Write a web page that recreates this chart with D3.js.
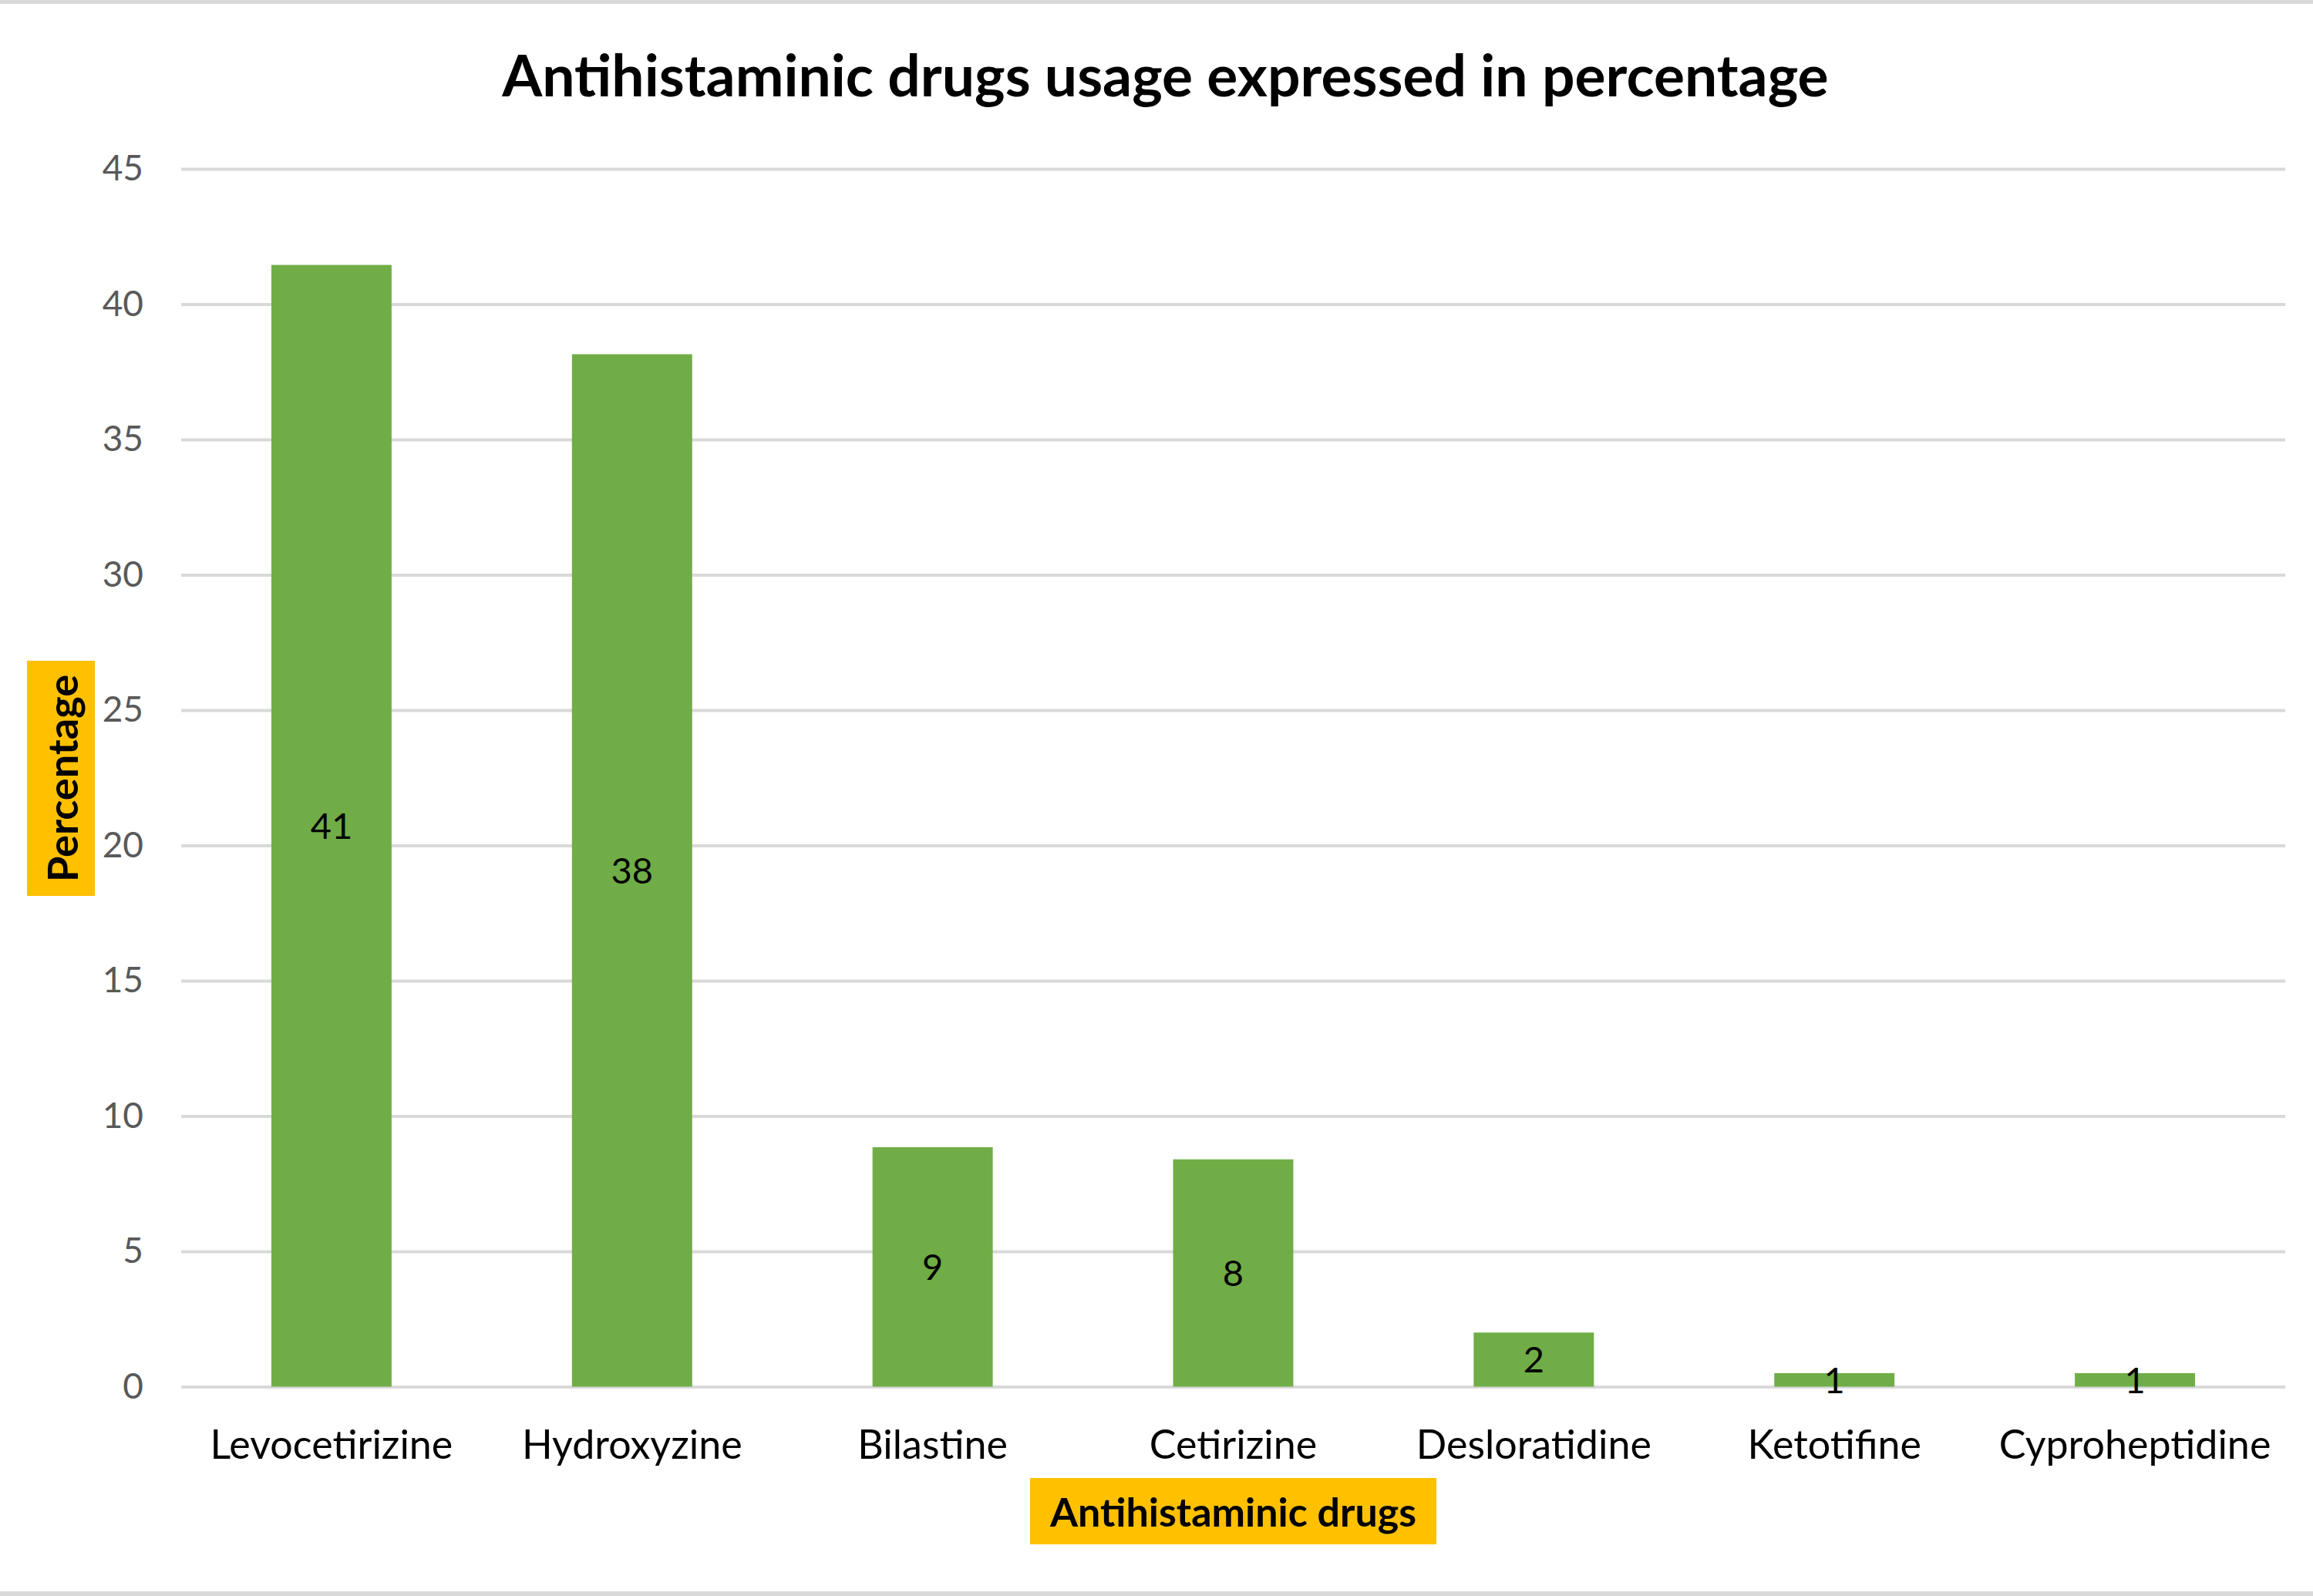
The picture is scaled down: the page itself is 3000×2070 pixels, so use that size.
<!DOCTYPE html>
<html>
<head>
<meta charset="utf-8">
<script src="https://cdn.jsdelivr.net/npm/d3@7"></script>
<style>
  html, body { margin: 0; padding: 0; background: #fff; }
  svg { display: block; font-family: Lato, "Open Sans", sans-serif; }
</style>
</head>
<body>
<div id="container"></div>
<script>
// chart data
const drugs = ['Levocetirizine', 'Hydroxyzine', 'Bilastine', 'Cetirizine', 'Desloratidine', 'Ketotifine', 'Cyproheptidine'];
const usage = [41.45, 38.15, 8.85, 8.4, 2.0, 0.5, 0.5];
const yTicks = [0, 5, 10, 15, 20, 25, 30, 35, 40, 45];

const width = 3000;
const height = 2070;
const plot = { left: 235, right: 2964, top: 219, bottom: 1798.5 };

const svg = d3.select('#container')
    .append('svg')
    .attr('width', width)
    .attr('height', height);

svg.append('rect').attr('width', width).attr('height', height).attr('fill', '#fff');
// thin grey frame lines at top and bottom
svg.append('rect').attr('x', 0).attr('y', 0).attr('width', width).attr('height', 5).attr('fill', '#d9d9d9');
svg.append('rect').attr('x', 0).attr('y', height - 6).attr('width', width).attr('height', 6).attr('fill', '#d9d9d9');

const x = d3.scaleBand()
    .domain(drugs)
    .range([plot.left, plot.right])
    .paddingInner(0.6)
    .paddingOuter(0.3);

const y = d3.scaleLinear()
    .domain([0, 45])
    .range([plot.bottom, plot.top]);

// y axis with gridlines
const yAxis = svg.append('g')
    .attr('transform', 'translate(' + plot.left + ',0)')
    .call(d3.axisLeft(y)
        .tickValues(yTicks)
        .tickSize(-(plot.right - plot.left))
        .tickPadding(49));

yAxis.select('.domain').remove();
yAxis.selectAll('.tick line')
    .attr('stroke', '#d9d9d9')
    .attr('stroke-width', 4);
yAxis.selectAll('.tick text')
    .attr('fill', '#595959')
    .attr('font-size', 46)
    .attr('font-family', 'Lato, "Open Sans", sans-serif');

// bars
svg.append('g')
    .selectAll('rect')
    .data(drugs)
    .join('rect')
    .attr('x', d => x(d))
    .attr('y', (d, i) => y(usage[i]))
    .attr('width', x.bandwidth())
    .attr('height', (d, i) => y(0) - y(usage[i]))
    .attr('fill', '#70ad47');

// data labels in the middle of each bar
svg.append('g')
    .selectAll('text')
    .data(drugs)
    .join('text')
    .attr('x', d => x(d) + x.bandwidth() / 2)
    .attr('y', (d, i) => (y(usage[i]) + y(0)) / 2)
    .attr('dy', '0.36em')
    .attr('text-anchor', 'middle')
    .attr('font-size', 47)
    .attr('fill', '#000')
    .text((d, i) => Math.round(usage[i]));

// category axis
const xAxis = svg.append('g')
    .attr('transform', 'translate(0,' + plot.bottom + ')')
    .call(d3.axisBottom(x).tickSize(0).tickPadding(93));

xAxis.select('.domain').remove();
xAxis.selectAll('.tick text')
    .attr('dy', 0)
    .attr('fill', '#000')
    .attr('font-size', 52)
    .attr('font-family', 'Lato, "Open Sans", sans-serif');

// title
svg.append('text')
    .attr('x', 1511.5)
    .attr('y', 125)
    .attr('text-anchor', 'middle')
    .attr('font-size', 75)
    .attr('font-weight', 'bold')
    .attr('fill', '#000')
    .text('Antihistaminic drugs usage expressed in percentage');

// y axis title
svg.append('rect')
    .attr('x', 35).attr('y', 857)
    .attr('width', 88).attr('height', 305)
    .attr('fill', '#ffc000');
svg.append('text')
    .attr('transform', 'translate(101,1009.5) rotate(-90)')
    .attr('text-anchor', 'middle')
    .attr('font-size', 54)
    .attr('font-weight', 'bold')
    .attr('fill', '#000')
    .text('Percentage');

// x axis title
svg.append('rect')
    .attr('x', 1336).attr('y', 1917)
    .attr('width', 527).attr('height', 86)
    .attr('fill', '#ffc000');
svg.append('text')
    .attr('x', (plot.left + plot.right) / 2)
    .attr('y', 1980)
    .attr('text-anchor', 'middle')
    .attr('font-size', 52)
    .attr('font-weight', 'bold')
    .attr('fill', '#000')
    .text('Antihistaminic drugs');
</script>
</body>
</html>
